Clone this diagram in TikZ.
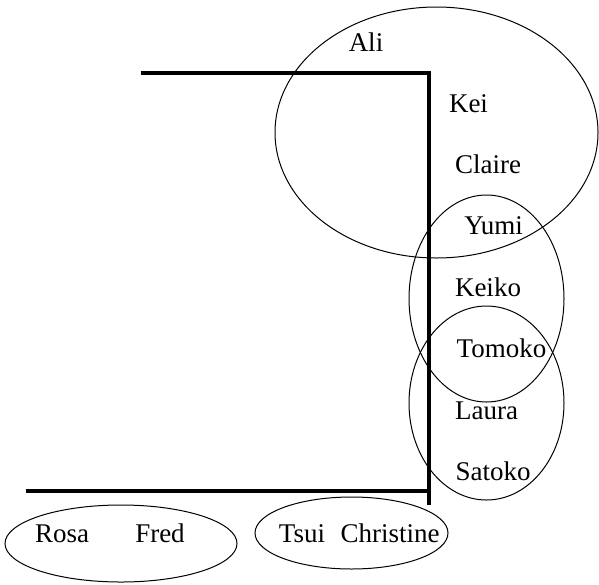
\documentclass[tikz,border=0pt]{standalone}
\usepackage{fontspec}
\setmainfont{Liberation Serif}
\usetikzlibrary{shapes.geometric}
\begin{document}
\begin{tikzpicture}[x=1pt,y=-1pt,
  person/.style={font=\fontsize{27}{30}\selectfont, inner sep=0pt, anchor=base},
  grp/.style={draw, line width=1pt},
  wall/.style={line width=4.5pt}]
\useasboundingbox (0,0) rectangle (599,584);
% thick lines
\coordinate (t1) at (141,73);
\coordinate (t2) at (429,73);
\coordinate (b1) at (26,491);
\coordinate (b2) at (429,491);
\coordinate (v2) at (429,505);
\draw[wall] (t1) -- (t2) -- (v2);
\draw[wall] (b1) -- (b2);
% group ellipses
\draw[grp] (436.5,132.5) ellipse [x radius=161.5, y radius=125.5];
\draw[grp] (486.5,298.5) ellipse [x radius=77.5, y radius=103.5];
\draw[grp] (486.5,403) ellipse [x radius=77.5, y radius=97];
\draw[grp] (121,543.5) ellipse [x radius=116, y radius=38.5];
\draw[grp] (351.5,533) ellipse [x radius=96.5, y radius=36];
% names
\node[person] (ali) at (366,51) {Ali};
\node[person] (kei) at (468.5,112) {Kei};
\node[person] (claire) at (488,173.5) {Claire};
\node[person] (yumi) at (493.5,234.5) {Yumi};
\node[person] (keiko) at (488,296) {Keiko};
\node[person] (tomoko) at (501.5,357.5) {Tomoko};
\node[person] (laura) at (486.5,419) {Laura};
\node[person] (satoko) at (493,480) {Satoko};
\node[person] (rosa) at (62,542) {Rosa};
\node[person] (fred) at (160,542) {Fred};
\node[person] (tsui) at (302,542) {Tsui};
\node[person] (christine) at (390,542) {Christine};
\end{tikzpicture}
\end{document}
